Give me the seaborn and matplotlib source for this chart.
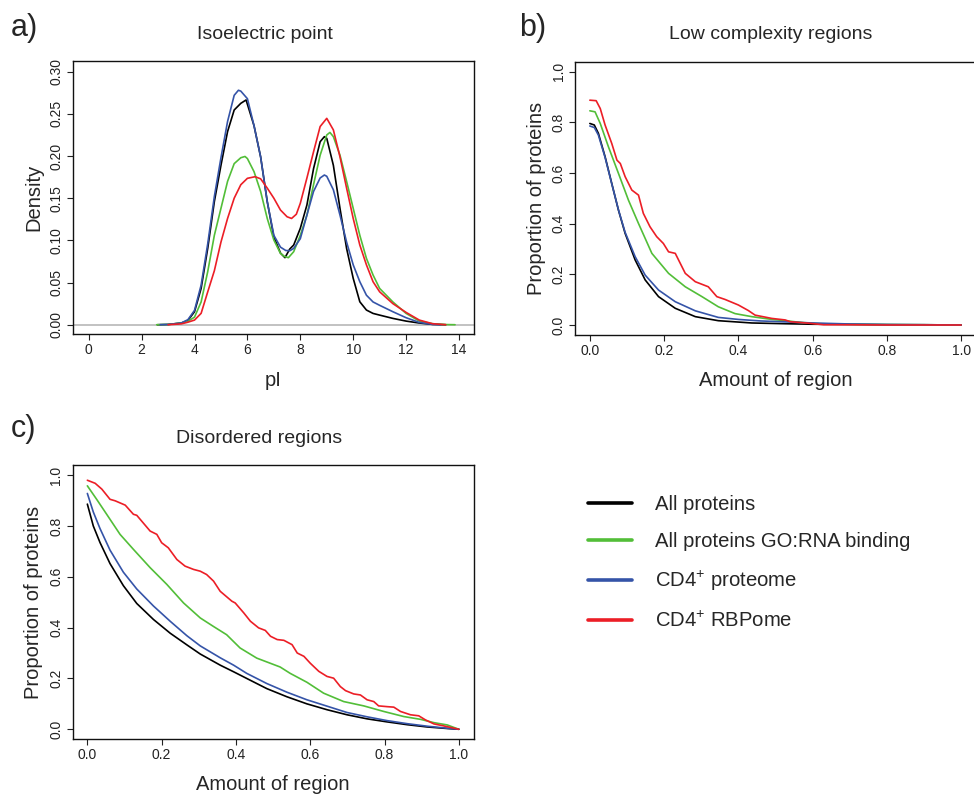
import numpy as np
import pandas as pd
import matplotlib
matplotlib.use("Agg")
import matplotlib.pyplot as plt
import seaborn as sns
from matplotlib.lines import Line2D

# ---------------- data ----------------
series_names = ["All proteins", "All proteins GO:RNA binding",
                "CD4$^{\\mathrm{+}}$ proteome", "CD4$^{\\mathrm{+}}$ RBPome"]
series_colors = ["#000000", "#52BE38", "#3554A8", "#EC1E26"]

# a) Isoelectric point density (pI, density) per series
pi_all_x = [2.6, 3.0, 3.5, 3.75, 4.0, 4.25, 4.5, 4.75, 5.0, 5.25, 5.5, 5.75, 5.95, 6.25,
            6.5, 6.75, 7.0, 7.25, 7.42, 7.6, 7.75, 8.0, 8.25, 8.5, 8.75, 8.91, 9.0, 9.25,
            9.5, 9.75, 10.0, 10.25, 10.5, 10.75, 11.0, 11.5, 12.0, 12.5, 13.0, 13.5]
pi_all_y = [0, .0003, .002, .005, .0154, .043, .0906, .146, .189, .229, .2546, .2625,
            .2665, .236, .199, .146, .104, .085, .0795, .0897, .0945, .1143, .142, .185,
            .217, .223, .221, .189, .138, .0905, .055, .0272, .0174, .0134, .0114, .0075,
            .0043, .002, .0004, 0]
pi_go_x = [2.57, 3.0, 3.5, 3.75, 4.0, 4.25, 4.5, 4.75, 5.0, 5.25, 5.5, 5.75, 5.91, 6.0,
           6.25, 6.5, 6.75, 7.0, 7.25, 7.4, 7.55, 7.75, 8.0, 8.25, 8.5, 8.75, 9.0, 9.12,
           9.25, 9.5, 9.75, 10.0, 10.25, 10.5, 10.75, 11.0, 11.5, 12.0, 12.5, 13.0,
           13.5, 13.85]
pi_go_y = [0, .0003, .002, .004, .009, .027, .063, .106, .138, .170, .191, .198, .1995,
           .197, .1815, .158, .126, .1004, .0846, .081, .0795, .0866, .106, .130, .166,
           .201, .225, .228, .223, .201, .170, .138, .106, .0787, .059, .043, .027,
           .0134, .0043, .0012, .0002, 0]
pi_cd4_x = [2.7, 3.0, 3.5, 3.75, 4.0, 4.25, 4.5, 4.75, 5.0, 5.25, 5.5, 5.66, 5.75, 6.0,
            6.25, 6.5, 6.75, 7.0, 7.25, 7.45, 7.61, 7.75, 8.0, 8.25, 8.5, 8.75, 8.91,
            9.0, 9.25, 9.5, 9.75, 10.0, 10.25, 10.5, 10.75, 11.0, 11.5, 12.0, 12.5,
            13.0, 13.3]
pi_cd4_y = [0, .0003, .002, .006, .017, .047, .096, .152, .198, .241, .272, .278, .277,
            .268, .236, .199, .146, .106, .092, .088, .0878, .0905, .102, .130, .158,
            .174, .1775, .176, .160, .130, .098, .071, .051, .035, .027, .023, .0154,
            .0083, .0027, .0004, 0]
pi_rbp_x = [3.0, 3.5, 3.75, 4.0, 4.25, 4.5, 4.75, 5.0, 5.25, 5.5, 5.75, 6.0, 6.29, 6.5,
            6.75, 7.0, 7.25, 7.5, 7.67, 7.85, 8.0, 8.25, 8.5, 8.75, 9.0, 9.25, 9.5,
            9.75, 10.0, 10.25, 10.5, 10.75, 11.0, 11.5, 12.0, 12.5, 13.0, 13.5]
pi_rbp_y = [0, .001, .003, .0055, .0135, .039, .064, .098, .126, .150, .166, .1736,
            .1755, .173, .162, .150, .136, .128, .126, .131, .144, .174, .205, .235,
            .2447, .231, .199, .162, .126, .0945, .071, .051, .039, .025, .0146, .0055,
            .0012, 0]

# b) Low complexity regions (proportion of proteins vs amount of region)
lc_all_x = [0, .012, .023, .041, .059, .077, .095, .122, .149, .185, .23, .284, .346,
            .436, .526, .6, .7, .8, .9, 1.0]
lc_all_y = [.796, .79, .757, .665, .559, .454, .362, .257, .178, .112, .066, .033, .017,
            .008, .005, .003, .002, .001, .001, 0.0]
lc_go_x = [0, .014, .028, .05, .077, .104, .131, .167, .212, .257, .302, .346, .391,
           .436, .49, .526, .57, .62, .7, .8, .9, 1.0]
lc_go_y = [.846, .842, .796, .704, .599, .493, .401, .283, .204, .151, .112, .072, .045,
           .033, .022, .017, .010, .005, .003, .002, .001, 0.0]
lc_cd4_x = [0, .012, .023, .041, .059, .077, .095, .122, .149, .185, .23, .284, .346,
            .40, .46, .55, .6, .7, .8, .9, 1.0]
lc_cd4_y = [.786, .78, .75, .662, .558, .455, .366, .27, .197, .138, .092, .056, .030,
            .022, .016, .011, .008, .004, .002, .001, 0.0]
lc_rbp_x = [0, .017, .028, .041, .059, .073, .082, .095, .113, .131, .144, .162, .18,
            .198, .212, .23, .257, .284, .319, .342, .364, .40, .427, .445, .49, .526,
            .54, .59, .63, .7, .8, .9, 1.0]
lc_rbp_y = [.888, .886, .855, .79, .717, .651, .638, .586, .533, .513, .441, .388, .349,
            .322, .289, .283, .204, .171, .151, .112, .101, .079, .057, .039, .026, .020,
            .013, .007, .001, .001, 0.0, 0.0, 0.0]

# c) Disordered regions
dr_all_x = [0, .016, .034, .061, .097, .133, .178, .223, .268, .304, .358, .394, .429,
            .483, .537, .591, .645, .699, .753, .807, .861, .915, .969, 1.0]
dr_all_y = [.886, .80, .735, .652, .565, .495, .432, .378, .332, .296, .252, .226, .200,
            .160, .128, .100, .077, .057, .041, .029, .018, .009, .003, 0.0]
dr_cd4_x = [0, .016, .034, .061, .097, .133, .178, .223, .268, .304, .358, .394, .429,
            .483, .537, .591, .645, .699, .753, .807, .861, .915, .969, 1.0]
dr_cd4_y = [.928, .855, .79, .705, .618, .552, .485, .425, .368, .328, .281, .252, .220,
            .180, .146, .116, .091, .066, .049, .034, .022, .012, .004, 0.0]
dr_go_x = [0, .025, .052, .088, .124, .169, .214, .259, .304, .339, .375, .411, .456,
           .501, .519, .546, .591, .636, .69, .744, .798, .852, .897, .933, .969, 1.0]
dr_go_y = [.958, .905, .846, .767, .708, .636, .570, .497, .438, .405, .372, .320, .280,
           .255, .245, .220, .185, .142, .109, .092, .070, .050, .039, .026, .017, 0.0]
dr_rbp_x = [0, .021, .039, .061, .075, .102, .124, .133, .169, .187, .2, .218, .241, .263,
            .286, .304, .321, .3397, .3576, .389, .398, .421, .439, .461, .479, .493, .511,
            .529, .551, .565, .583, .6, .623, .645, .663, .681, .695, .717, .735, .753,
            .771, .784, .807, .825, .843, .87, .892, .91, .933, .96, 1.0]
dr_rbp_y = [.980, .968, .945, .905, .899, .882, .846, .842, .780, .767, .734, .714, .668,
            .642, .629, .622, .609, .583, .543, .504, .497, .458, .425, .399, .389, .366,
            .353, .350, .333, .300, .287, .260, .228, .208, .201, .168, .152, .139, .135,
            .116, .109, .092, .089, .087, .070, .057, .053, .037, .021, .013, 0.0]

# ---------------- style ----------------
sns.set_style("ticks")
plt.rcParams['font.family'] = ['Liberation Sans', 'DejaVu Sans']
plt.rcParams['mathtext.fontset'] = 'custom'
plt.rcParams['mathtext.rm'] = 'Liberation Sans'
plt.rcParams['mathtext.it'] = 'Liberation Sans:italic'
plt.rcParams['mathtext.bf'] = 'Liberation Sans:bold'

W, H = 974, 799
fig = plt.figure(figsize=(W / 100, H / 100), dpi=100)


def box(l, t, r, b):
    return [l / W, 1 - b / H, (r - l) / W, (b - t) / H]


ax_a = fig.add_axes(box(73, 61, 474, 334))
ax_b = fig.add_axes(box(575, 61.7, 976, 335))
ax_c = fig.add_axes(box(72.5, 465, 473.7, 739.3))

palette = dict(zip(series_names, series_colors))


def long_df(xs, ys):
    frames = [pd.DataFrame({"x": x, "y": y, "series": n})
              for x, y, n in zip(xs, ys, series_names)]
    return pd.concat(frames, ignore_index=True)


df_a = long_df([pi_all_x, pi_go_x, pi_cd4_x, pi_rbp_x],
               [pi_all_y, pi_go_y, pi_cd4_y, pi_rbp_y])
df_b = long_df([lc_all_x, lc_go_x, lc_cd4_x, lc_rbp_x],
               [lc_all_y, lc_go_y, lc_cd4_y, lc_rbp_y])
df_c = long_df([dr_all_x, dr_go_x, dr_cd4_x, dr_rbp_x],
               [dr_all_y, dr_go_y, dr_cd4_y, dr_rbp_y])

ax_a.axhline(0, color="#bdbdbd", lw=1.3, zorder=1)
for ax, df in [(ax_a, df_a), (ax_b, df_b), (ax_c, df_c)]:
    sns.lineplot(data=df, x="x", y="y", hue="series", hue_order=series_names,
                 palette=palette, estimator=None, sort=False, legend=False,
                 linewidth=1.2, ax=ax, zorder=3)

# axes formatting
ax_a.set_xlim(-0.594, 14.567)
ax_a.set_ylim(-0.011, 0.3127)
ax_a.set_xticks(np.arange(0, 15, 2))
ax_a.set_yticks(np.arange(0, 0.31, 0.05))
ax_a.set_yticklabels([f"{v:.2f}" for v in np.arange(0, 0.31, 0.05)])
ax_a.set_xlabel("pI", fontsize=14.5, labelpad=10)
ax_a.set_ylabel("Density", fontsize=14.5, labelpad=4.5)
ax_a.set_title("Isoelectric point", fontsize=14, pad=16, x=0.479)

for ax in (ax_b, ax_c):
    ax.set_xlim(-0.04, 1.04)
    ax.set_ylim(-0.0395, 1.04)
    ticks = np.arange(0, 1.01, 0.2)
    ax.set_xticks(ticks)
    ax.set_xticklabels([f"{v:.1f}" for v in ticks])
    ax.set_yticks(ticks)
    ax.set_yticklabels([f"{v:.1f}" for v in ticks])
    ax.set_xlabel("Amount of region", fontsize=14.5, labelpad=9)
    ax.set_ylabel("Proportion of proteins", fontsize=14.5, labelpad=4.5)

ax_b.set_title("Low complexity regions", fontsize=14, pad=16, x=0.489)
ax_c.set_title("Disordered regions", fontsize=14, pad=16, x=0.465)

for ax in (ax_a, ax_b, ax_c):
    ax.tick_params(direction="out", length=4.5, width=0.8, labelsize=10, pad=2,
                   colors="#222222")
    ax.tick_params(axis="y", labelrotation=90)
    for lab in ax.get_yticklabels():
        lab.set_va("center")
    for s in ax.spines.values():
        s.set_linewidth(1.0)
        s.set_color("#111111")
        s.set_visible(True)

fig.text(11 / W, 1 - 28 / H, "a)", fontsize=22, va="center", ha="left")
fig.text(519 / W, 1 - 28 / H, "b)", fontsize=22, va="center", ha="left")
fig.text(11 / W, 1 - 429 / H, "c)", fontsize=22, va="center", ha="left")

handles = [Line2D([0], [0], color=c, lw=2.6) for c in series_colors]
fig.legend(handles, series_names, loc="upper left",
           bbox_to_anchor=(588 / W, 1 - 495 / H), frameon=False, fontsize=14.6,
           handlelength=2.15, handletextpad=1.13, labelspacing=0.88,
           borderpad=0, borderaxespad=0)

fig.savefig("out.png", dpi=100)
